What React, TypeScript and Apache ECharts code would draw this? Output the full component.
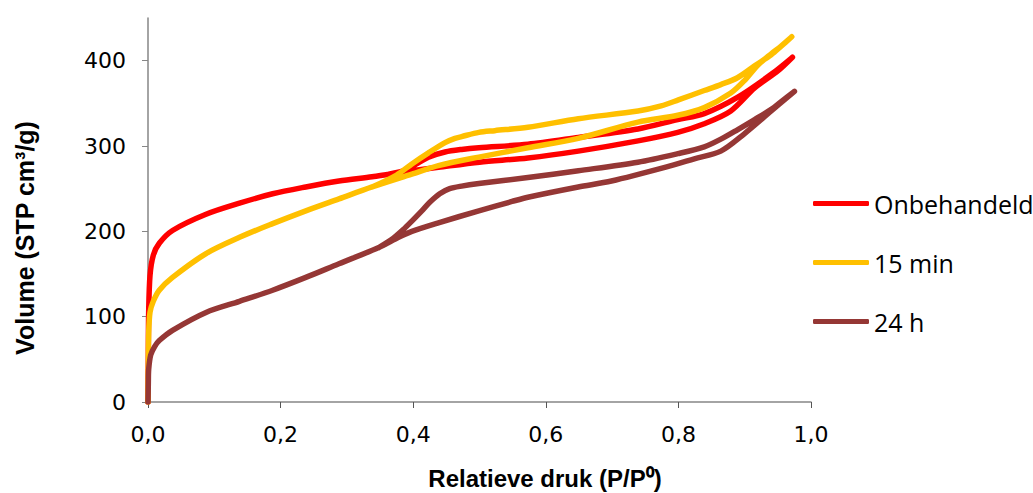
import { useEffect, useRef } from "react";
import * as echarts from "echarts";

// Axis ticks
const xTicks = [0, 0.2, 0.4, 0.6, 0.8, 1.0];
const yTicks = [0, 100, 200, 300, 400];

// Sample names and line colours
const seriesNames = ["Onbehandeld", "15 min", "24 h"];
const seriesColors = ["#FF0000", "#FFC000", "#953735"];

// Isotherms: [relative pressure P/P0, adsorbed volume (STP cm³/g)]
// Adsorption branch (rising P/P0) followed by desorption branch (falling P/P0)
const onbehandeldAds = [
  [0, 0], [0.0005, 60], [0.001, 105], [0.003, 148], [0.008, 172], [0.017, 186],
  [0.037, 201], [0.0875, 220], [0.138, 233], [0.188, 244], [0.238, 252],
  [0.288, 259], [0.338, 264], [0.363, 267], [0.398, 271], [0.438, 275],
  [0.5, 281], [0.573, 286], [0.649, 294], [0.739, 306], [0.799, 316],
  [0.839, 326], [0.879, 341], [0.915, 368], [0.95, 388], [0.972, 404],
];
const onbehandeldDes = [
  [0.94, 384], [0.889, 357], [0.839, 338], [0.799, 331], [0.739, 320],
  [0.649, 310], [0.573, 302], [0.499, 298], [0.473, 296], [0.448, 293],
  [0.423, 287], [0.405, 279], [0.39, 272], [0.363, 267],
];

const min15Ads = [
  [0, 0], [0.0005, 45], [0.001, 80], [0.003, 105], [0.008, 118], [0.017, 131],
  [0.037, 146], [0.0875, 174], [0.138, 193], [0.188, 209], [0.238, 224],
  [0.288, 238], [0.338, 252], [0.398, 267], [0.438, 277], [0.499, 287],
  [0.573, 298], [0.649, 309], [0.739, 328], [0.799, 336], [0.839, 345],
  [0.879, 362], [0.9, 377], [0.92, 395], [0.94, 408], [0.955, 417], [0.971, 428],
];
const min15Des = [
  [0.955, 417], [0.94, 407], [0.915, 394], [0.889, 380], [0.864, 372],
  [0.839, 365], [0.8, 354], [0.774, 347], [0.739, 341], [0.649, 332],
  [0.573, 322], [0.523, 318], [0.499, 316], [0.473, 311], [0.463, 309],
  [0.448, 304], [0.423, 292], [0.398, 279], [0.375, 266], [0.338, 252],
];

const h24Ads = [
  [0, 0], [0.0005, 22], [0.001, 38], [0.004, 55], [0.01, 65], [0.017, 72],
  [0.037, 84], [0.0875, 105], [0.138, 118], [0.188, 131], [0.238, 146],
  [0.288, 162], [0.348, 181], [0.378, 193], [0.398, 200], [0.438, 210],
  [0.499, 224], [0.549, 235], [0.573, 240], [0.649, 252], [0.699, 259],
  [0.789, 277], [0.824, 285], [0.864, 294], [0.899, 314], [0.94, 341],
  [0.975, 364],
];
const h24Des = [
  [0.955, 352], [0.94, 343], [0.915, 331], [0.889, 319], [0.864, 308],
  [0.839, 299], [0.799, 291], [0.739, 281], [0.649, 271], [0.573, 263],
  [0.499, 256], [0.473, 253], [0.455, 250], [0.44, 244], [0.425, 234],
  [0.413, 224], [0.398, 212], [0.385, 202], [0.37, 192], [0.348, 181],
];

const seriesData = [
  [...onbehandeldAds, ...onbehandeldDes],
  [...min15Ads, ...min15Des],
  [...h24Ads, ...h24Des],
];

const axisGrey = "#868686";

export default function App() {
  const ref = useRef<HTMLDivElement>(null);

  useEffect(() => {
    const chart = echarts.init(ref.current!, null, { renderer: "svg" });
    chart.setOption({
      animation: false,
      backgroundColor: "#ffffff",
      grid: { left: 148, right: 222, top: 18, bottom: 91 },
      xAxis: {
        type: "value",
        min: 0,
        max: 1,
        interval: 0.2,
        axisLine: { show: true, lineStyle: { color: axisGrey, width: 1.5 } },
        axisTick: { show: true, length: 6, inside: false, lineStyle: { color: "#555", width: 1 } },
        splitLine: { show: false },
        axisLabel: {
          margin: 21,
          fontFamily: "DejaVu Sans",
          fontSize: 22,
          color: "#000",
          formatter: (v: number) => v.toFixed(1).replace(".", ","),
        },
      },
      yAxis: {
        type: "value",
        min: 0,
        max: 450,
        interval: 100,
        axisLine: { show: true, lineStyle: { color: axisGrey, width: 1.5 } },
        axisTick: { show: true, length: 6, customValues: yTicks, lineStyle: { color: axisGrey, width: 1 } },
        splitLine: { show: false },
        axisLabel: {
          margin: 22,
          customValues: yTicks,
          fontFamily: "DejaVu Sans",
          fontSize: 22,
          color: "#000",
        },
      },
      legend: {
        orient: "vertical",
        left: 808,
        top: 186,
        itemWidth: 56,
        itemHeight: 5,
        itemGap: 34,
        icon: "roundRect",
        data: seriesNames,
        textStyle: { fontFamily: "Open Sans", fontSize: 25, color: "#000" },
      },
      graphic: [
        {
          type: "text",
          x: 545,
          y: 478,
          style: {
            text: "Relatieve druk (P/P⁰)",
            font: "bold 24px 'Liberation Sans'",
            fill: "#000",
            align: "center",
            verticalAlign: "middle",
          },
        },
        {
          type: "text",
          x: 25,
          y: 238,
          rotation: Math.PI / 2,
          style: {
            text: "Volume (STP cm³/g)",
            font: "bold 25px 'Liberation Sans'",
            fill: "#000",
            align: "center",
            verticalAlign: "middle",
          },
        },
      ],
      series: seriesNames.map((name, i) => ({
        name,
        type: "line",
        data: seriesData[i],
        showSymbol: false,
        symbol: "none",
        smooth: 0.3,
        color: seriesColors[i],
        lineStyle: { color: seriesColors[i], width: 5.5, cap: "round", join: "round" },
      })),
    });
    return () => chart.dispose();
  }, []);

  return (
    <div
      ref={ref}
      style={{ position: "fixed", left: 0, top: 0, width: 1033, height: 493 }}
    />
  );
}
